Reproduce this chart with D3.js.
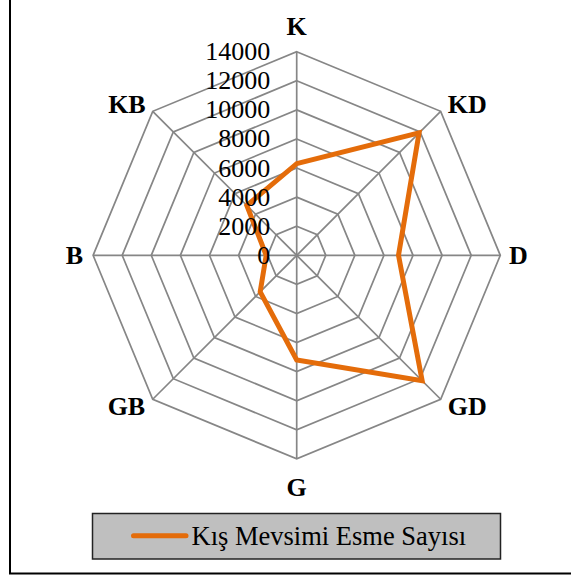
<!DOCTYPE html>
<html>
<head>
<meta charset="utf-8">
<script src="https://cdn.jsdelivr.net/npm/d3@7/dist/d3.min.js"></script>
<style>
  html, body { margin: 0; padding: 0; background: #fff; }
  svg { display: block; }
</style>
</head>
<body>
<svg id="chart" width="571" height="576"></svg>
<script>
// Wind directions (clockwise from north)
const directions = ["K", "KD", "D", "GD", "G", "GB", "B", "KB"];
// Winter gust counts per direction
const seriesName = "Kış Mevsimi Esme Sayısı";
const seriesValues = [6300, 11900, 7000, 12200, 7200, 3550, 2100, 4850];
// Radial axis ticks
const tickValues = [0, 2000, 4000, 6000, 8000, 10000, 12000, 14000];

const FONT = "'Liberation Serif', Tinos, 'Times New Roman', 'DejaVu Serif', serif";
const cx = 296.7, cy = 255.3, R = 203.6;
const gridColor = "#868686";
const lineColor = "#E46C0A";

const svg = d3.select("#chart");

// outer chart frame
svg.append("rect")
  .attr("x", 10).attr("y", -10)
  .attr("width", 600).attr("height", 583.5)
  .attr("fill", "#fff").attr("stroke", "#000").attr("stroke-width", 2);

const r = d3.scaleLinear().domain([0, d3.max(tickValues)]).range([0, R]);
const angle = d3.scaleLinear().domain([0, directions.length]).range([0, 2 * Math.PI]);

const pt = (i, v) => {
  const a = angle(i);
  return [cx + r(v) * Math.sin(a), cy - r(v) * Math.cos(a)];
};

const g = svg.append("g");

// concentric octagon rings
const ringLine = d3.line().curve(d3.curveLinearClosed);
g.selectAll("path.ring")
  .data(tickValues.filter(t => t > 0))
  .join("path")
  .attr("class", "ring")
  .attr("d", t => ringLine(directions.map((_, i) => pt(i, t))))
  .attr("fill", "none")
  .attr("stroke", gridColor)
  .attr("stroke-width", 1.7);

// spokes
g.selectAll("line.spoke")
  .data(directions)
  .join("line")
  .attr("class", "spoke")
  .attr("x1", cx).attr("y1", cy)
  .attr("x2", (d, i) => pt(i, d3.max(tickValues))[0])
  .attr("y2", (d, i) => pt(i, d3.max(tickValues))[1])
  .attr("stroke", gridColor)
  .attr("stroke-width", 1.7);

// series polygon
g.append("path")
  .attr("d", ringLine(seriesValues.map((v, i) => pt(i, v))))
  .attr("fill", "none")
  .attr("stroke", lineColor)
  .attr("stroke-width", 5)
  .attr("stroke-linejoin", "miter");

// radial tick labels along the north spoke
g.selectAll("text.tick")
  .data(tickValues)
  .join("text")
  .attr("class", "tick")
  .attr("x", cx - 26.5)
  .attr("y", t => cy - r(t) + 8.5)
  .attr("text-anchor", "end")
  .attr("font-family", FONT)
  .attr("font-size", 26)
  .attr("fill", "#000")
  .text(t => t);

// direction labels
const lblOffset = {
  K:  { dx: 0,   dy: -16.5, anchor: "middle" },
  KD: { dx: 7,   dy: 2,     anchor: "start" },
  D:  { dx: 8.7, dy: 9,     anchor: "start" },
  GD: { dx: 7,   dy: 16,    anchor: "start" },
  G:  { dx: 0,   dy: 37,    anchor: "middle" },
  GB: { dx: -7.5, dy: 16,   anchor: "end" },
  B:  { dx: -10, dy: 9,     anchor: "end" },
  KB: { dx: -7,  dy: 2,     anchor: "end" }
};
g.selectAll("text.dir")
  .data(directions)
  .join("text")
  .attr("class", "dir")
  .attr("x", (d, i) => pt(i, d3.max(tickValues))[0] + lblOffset[d].dx)
  .attr("y", (d, i) => pt(i, d3.max(tickValues))[1] + lblOffset[d].dy)
  .attr("text-anchor", d => lblOffset[d].anchor)
  .attr("font-family", FONT)
  .attr("font-size", 26)
  .attr("font-weight", "bold")
  .attr("fill", "#000")
  .text(d => d);

// legend
const lg = svg.append("g");
lg.append("rect")
  .attr("x", 92.5).attr("y", 513.5)
  .attr("width", 408).attr("height", 45.5)
  .attr("fill", "#BFBFBF").attr("stroke", "#222").attr("stroke-width", 1.5);
lg.append("line")
  .attr("x1", 133.5).attr("x2", 186)
  .attr("y1", 535.7).attr("y2", 535.7)
  .attr("stroke", lineColor).attr("stroke-width", 5)
  .attr("stroke-linecap", "round");
lg.append("text")
  .attr("x", 191.5).attr("y", 545)
  .attr("font-family", FONT)
  .attr("font-size", 26.5)
  .attr("fill", "#000")
  .text(seriesName);
</script>
</body>
</html>
